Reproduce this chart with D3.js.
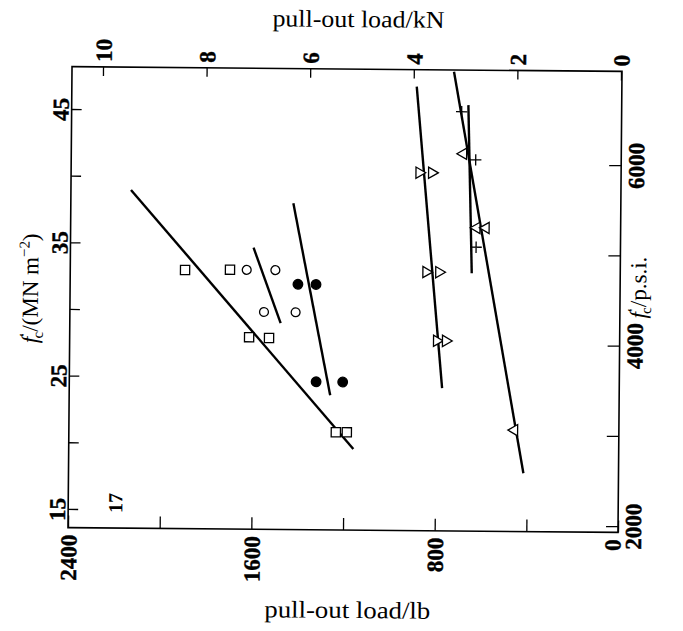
<!DOCTYPE html>
<html>
<head>
<meta charset="utf-8">
<script src="https://cdn.jsdelivr.net/npm/d3@7"></script>
<style>
  body { margin: 0; background: #fff; }
  svg { display: block; }
</style>
</head>
<body>
<div id="chart"></div>
<script>
// Tick values and labels
const lbTicks = [2400, 2000, 1600, 1200, 800, 400, 0];
const lbLabels = [2400, 1600, 800, 0];
const kNTicks = [10, 8, 6, 4, 2, 0];
const mpaTicks = [15, 20, 25, 30, 35, 40, 45];
const mpaLabels = [15, 25, 35, 45];
const psiTicks = [2000, 3000, 4000, 5000, 6000];
const psiLabels = [2000, 4000, 6000];

// Measured points: [pull-out load (lb), f'c (MN m^-2)]
const squarePts = [[1899, 33.0], [1703, 33.05], [1617, 28.0], [1530, 27.95], [1235, 20.93], [1187, 20.93]];
const openCirclePts = [[1630, 33.05], [1505, 33.05], [1553, 29.9], [1415, 29.9]];
const filledCirclePts = [[1406, 32.0], [1327, 32.0], [1323, 24.7], [1207, 24.7]];
const rightTriPts = [[881, 40.45], [826, 40.45], [847, 33.0], [791, 33.0], [798, 27.85], [759, 27.85]];
const leftTriPts = [[689, 41.9], [628, 36.35], [588, 36.35], [456, 21.2]];
const plusPts = [[698, 45.05], [635, 41.45], [630, 34.9]];

// Fitted lines: end points
const squareFit = [[2138, 38.97], [1158, 19.68]];
const openCircleFit = [[1601, 34.72], [1480, 29.07]];
const filledCircleFit = [[1429, 38.07], [1261, 23.70]];
const rightTriFit = [[895, 46.9], [773, 24.3]];
const leftTriFit = [[733, 48.05], [415, 17.97]];
const plusFit = [[669, 45.55], [648, 32.94]];

const W = 683, H = 631;
const box = { left: 70, right: 620, top: 69, bottom: 530 };
const FONT = '"Liberation Serif", "DejaVu Serif", serif';

const svg = d3.select('#chart').append('svg')
    .attr('width', W)
    .attr('height', H);

// the scanned figure sits slightly tilted
const g = svg.append('g')
    .attr('transform', 'rotate(0.5,345,300)');

// Scales
const x = d3.scaleLinear().domain([2400, 0]).range([box.left, box.right]);
const xkN = d3.scaleLinear().domain([0, 10]).range([619, 101]);
const y = d3.scaleLinear().domain([13.6, 48.18]).range([box.bottom, box.top]);
const yPsi = d3.scaleLinear().domain([1931, 7039]).range([box.bottom, box.top]);

function styleAxis(sel) {
    sel.select('.domain').remove();
    sel.attr('font-family', FONT)
        .attr('font-size', 23)
        .attr('font-weight', 'bold');
    sel.selectAll('line').attr('stroke', '#000').attr('stroke-width', 1.3);
    sel.selectAll('text')
        .attr('fill', '#000')
        .attr('stroke', '#000')
        .attr('stroke-width', 0.4);
}

// Bottom axis (lb)
g.append('g')
    .attr('transform', `translate(0,${box.bottom})`)
    .call(d3.axisBottom(x).tickValues(lbTicks).tickSize(-12)
        .tickFormat(d => lbLabels.includes(d) ? d : ''))
    .call(styleAxis)
    .selectAll('text')
    .attr('x', 0).attr('y', 0).attr('dy', '0.35em')
    .attr('text-anchor', 'end')
    .attr('transform', d => `translate(${d === 0 ? -6 : 0},7) rotate(-90)`);

// Top axis (kN)
g.append('g')
    .attr('transform', `translate(0,${box.top})`)
    .call(d3.axisTop(xkN).tickValues(kNTicks).tickSize(-9))
    .call(styleAxis)
    .selectAll('text')
    .attr('x', 0).attr('y', 0).attr('dy', '0.35em')
    .attr('text-anchor', 'start')
    .attr('transform', 'translate(0,-5) rotate(-90)');

// Left axis (MN m^-2)
g.append('g')
    .attr('transform', `translate(${box.left},0)`)
    .call(d3.axisLeft(y).tickValues(mpaTicks).tickSize(-10)
        .tickFormat(d => mpaLabels.includes(d) ? d : ''))
    .call(styleAxis)
    .selectAll('text')
    .attr('x', 0).attr('y', 0).attr('dy', '0.35em')
    .attr('text-anchor', 'middle')
    .attr('transform', 'translate(-11,0) rotate(-90)');

// Right axis (p.s.i.)
g.append('g')
    .attr('transform', `translate(${box.right},0)`)
    .call(d3.axisRight(yPsi).tickValues(psiTicks).tickSize(-12)
        .tickFormat(d => psiLabels.includes(d) ? d : ''))
    .call(styleAxis)
    .selectAll('text')
    .attr('x', 0).attr('y', 0).attr('dy', '0.35em')
    .attr('text-anchor', 'middle')
    .attr('transform', 'translate(15,0) rotate(-90)');

// Frame
g.append('rect')
    .attr('x', box.left)
    .attr('y', box.top)
    .attr('width', box.right - box.left)
    .attr('height', box.bottom - box.top)
    .attr('fill', 'none')
    .attr('stroke', '#000')
    .attr('stroke-width', 1.6);

// Fit lines
const line = d3.line().x(d => x(d[0])).y(d => y(d[1]));
[squareFit, openCircleFit, filledCircleFit, rightTriFit, leftTriFit, plusFit].forEach(f => {
    g.append('path')
        .attr('d', line(f))
        .attr('fill', 'none')
        .attr('stroke', '#000')
        .attr('stroke-width', 2.4);
});

// Plus symbol drawn with thin strokes
const plusType = {
    draw(ctx, size) {
        const r = Math.sqrt(size) / 2;
        ctx.moveTo(-r, 0); ctx.lineTo(r, 0);
        ctx.moveTo(0, -r); ctx.lineTo(0, r);
    }
};

function drawMarkers(pts, type, size, fill, rot) {
    g.append('g').selectAll('path')
        .data(pts)
        .join('path')
        .attr('d', d3.symbol().type(type).size(size))
        .attr('transform', d => `translate(${x(d[0])},${y(d[1])}) rotate(${rot})`)
        .attr('fill', fill)
        .attr('stroke', '#000')
        .attr('stroke-width', 1.3);
}

drawMarkers(squarePts, d3.symbolSquare, 85, '#fff', 0);
drawMarkers(openCirclePts, d3.symbolCircle, 62, '#fff', 0);
drawMarkers(filledCirclePts, d3.symbolCircle, 72, '#000', 0);
drawMarkers(rightTriPts, d3.symbolTriangle, 55, '#fff', 90);
drawMarkers(leftTriPts, d3.symbolTriangle, 55, '#fff', -90);
drawMarkers(plusPts, plusType, 130, 'none', 0);

// Axis titles
g.append('text')
    .attr('x', 356).attr('y', 27)
    .attr('text-anchor', 'middle')
    .attr('font-family', FONT)
    .attr('font-size', 24)
    .attr('textLength', 172)
    .attr('lengthAdjust', 'spacingAndGlyphs')
    .text('pull-out load/kN');

g.append('text')
    .attr('x', 350).attr('y', 618)
    .attr('text-anchor', 'middle')
    .attr('font-family', FONT)
    .attr('font-size', 24)
    .attr('textLength', 166)
    .attr('lengthAdjust', 'spacingAndGlyphs')
    .text('pull-out load/lb');

const leftTitle = g.append('text')
    .attr('transform', 'translate(38,291) rotate(-90)')
    .attr('text-anchor', 'middle')
    .attr('font-family', FONT)
    .attr('font-size', 23);
leftTitle.append('tspan').attr('font-style', 'italic').text('f');
leftTitle.append('tspan').attr('font-size', 15).attr('dy', -8).text('′');
leftTitle.append('tspan').attr('font-size', 15).attr('dx', -5).attr('dy', 13).text('c');
leftTitle.append('tspan').attr('dy', -5).text('/(MN m');
leftTitle.append('tspan').attr('font-size', 15).attr('dy', -9).text('−2');
leftTitle.append('tspan').attr('dy', 9).text(')');

const rightTitle = g.append('text')
    .attr('transform', 'translate(646,285) rotate(-90)')
    .attr('text-anchor', 'middle')
    .attr('font-family', FONT)
    .attr('font-size', 23);
rightTitle.append('tspan').attr('font-style', 'italic').text('f');
rightTitle.append('tspan').attr('font-size', 15).attr('dy', -8).text('′');
rightTitle.append('tspan').attr('font-size', 15).attr('dx', -5).attr('dy', 13).text('c');
rightTitle.append('tspan').attr('dy', -5).text('/p.s.i.');

// Figure number
g.append('text')
    .attr('transform', 'translate(117,505) rotate(-90)')
    .attr('dy', '0.35em')
    .attr('text-anchor', 'middle')
    .attr('font-family', FONT)
    .attr('font-size', 20)
    .attr('font-weight', 'bold')
    .text('17');
</script>
</body>
</html>
